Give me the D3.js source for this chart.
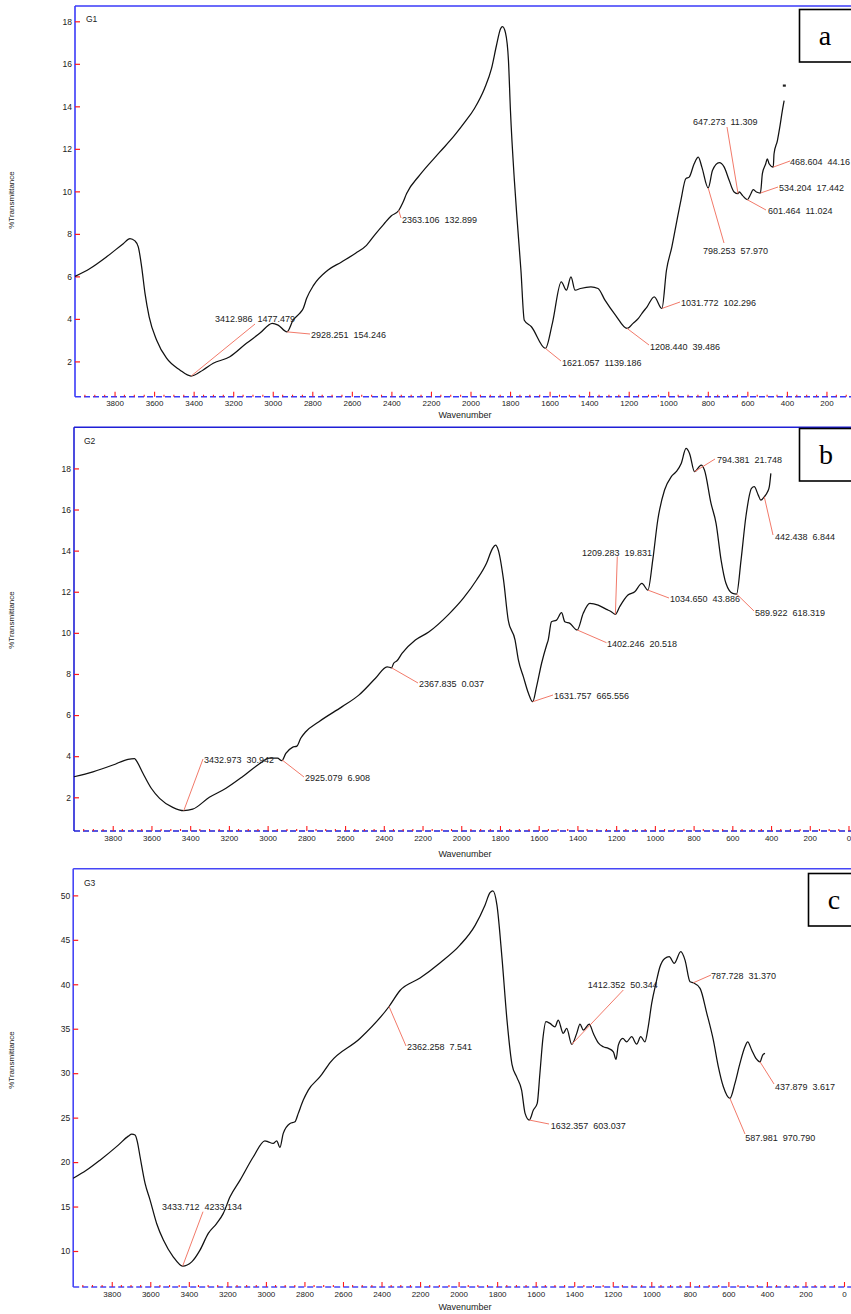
<!DOCTYPE html>
<html><head><meta charset="utf-8">
<script src="https://cdn.jsdelivr.net/npm/d3@7"></script>
<style>
body{margin:0;background:#fff}
svg{display:block}
</style>
</head><body>
<svg id="chart" width="851" height="1314"></svg>
<script>
// ---------- DATA ----------
const wnA = [4000,3924,3840,3756,3722,3697,3680,3663,3646,3625,3587,3537,3470,3413,3352,3301,3217,3133,3066,3002,2973,2928,2897,2864,2846,2828,2793,2722,2652,2581,2526,2482,2439,2400,2363,2343,2323,2258,2157,2081,2030,1980,1929,1894,1869,1848,1838,1823,1808,1798,1778,1764,1745,1728,1692,1621,1586,1541,1515,1492,1471,1444,1391,1355,1320,1267,1208,1178,1151,1133,1107,1071,1032,1009,982,956,936,911,894,869,848,830,798,776,742,717,692,667,647,641,625,601,582,571,554,534,524,507,499,490,469,465,448,436,423,414];
const tA  = [6.0,6.37,6.92,7.54,7.78,7.67,7.39,6.45,5.2,4.1,3.0,2.15,1.6,1.31,1.6,1.91,2.22,2.85,3.32,3.79,3.71,3.39,3.94,4.26,4.49,4.98,5.59,6.29,6.68,7.09,7.46,7.98,8.45,8.85,9.1,9.45,9.9,10.75,11.83,12.63,13.24,13.9,14.84,15.77,16.85,17.65,17.75,17.46,16.15,13.8,10.5,8.64,6.29,3.94,3.63,2.61,3.79,5.74,5.35,5.98,5.35,5.43,5.51,5.43,4.88,4.18,3.55,3.79,4.02,4.26,4.57,5.04,4.49,6.29,7.38,8.64,9.58,10.6,10.67,11.3,11.61,11.14,10.16,10.99,11.35,11.14,10.52,9.97,9.89,9.97,9.81,9.61,9.89,10.08,9.97,9.92,10.83,11.3,11.53,11.3,11.14,11.77,12.39,13.02,13.8,14.27];
// isolated point above the end of spectrum G1
const wnDotA = [413];
const tDotA  = [14.98];

const wnB = [4000,3902,3799,3721,3687,3678,3644,3601,3558,3490,3433,3387,3301,3215,3130,3044,2992,2949,2927,2906,2872,2849,2829,2803,2735,2615,2529,2443,2383,2360,2349,2332,2306,2237,2168,2065,1988,1921,1869,1839,1823,1808,1782,1757,1722,1705,1679,1653,1631,1611,1585,1559,1551,1534,1508,1482,1465,1439,1401,1370,1336,1293,1250,1225,1204,1182,1139,1104,1067,1036,1011,985,950,916,890,864,839,821,795,761,744,710,684,658,633,598,578,555,530,501,487,466,453,435,418,409,401];
const tB  = [3.0,3.24,3.57,3.85,3.88,3.78,3.17,2.44,1.95,1.51,1.35,1.42,2.0,2.44,3.0,3.62,3.9,3.9,3.78,4.14,4.43,4.49,4.87,5.19,5.68,6.41,6.97,7.79,8.35,8.3,8.52,8.64,9.0,9.65,10.04,10.9,11.7,12.57,13.4,14.1,14.27,14.0,12.6,10.6,9.65,8.68,7.86,7.06,6.65,7.38,8.52,9.41,9.65,10.54,10.62,10.98,10.54,10.46,10.14,10.95,11.43,11.35,11.14,11.03,10.9,11.27,11.84,12.0,12.41,12.08,13.54,15.49,16.95,17.59,17.84,18.24,18.97,18.73,17.84,18.16,17.92,16.3,15.33,13.54,12.41,11.92,11.89,13.54,15.65,17.03,17.11,16.7,16.46,16.62,16.86,17.11,17.76];

const wnC = [4000,3930,3861,3766,3714,3696,3679,3667,3653,3627,3601,3567,3532,3481,3432,3385,3342,3299,3255,3221,3186,3134,3065,3005,2988,2962,2944,2927,2910,2875,2849,2832,2806,2780,2719,2667,2512,2361,2304,2200,2097,1993,1915,1863,1837,1822,1801,1775,1749,1723,1697,1673,1655,1633,1612,1592,1578,1562,1547,1526,1500,1483,1457,1439,1413,1387,1370,1353,1322,1301,1275,1249,1223,1197,1183,1171,1148,1128,1102,1076,1055,1033,1016,998,976,955,930,907,881,847,825,799,782,747,712,678,652,626,592,566,540,514,500,479,457,436,422,410];
const tC  = [18.17,19.1,20.22,21.91,22.92,23.15,23.04,22.28,20.6,17.6,15.73,13.1,11.23,9.35,8.3,8.78,10.1,11.98,13.1,14.23,16.1,17.97,20.6,22.4,22.28,22.1,22.4,21.65,23.23,24.35,24.54,25.48,26.97,28.1,29.6,31.2,33.9,37.5,39.3,40.7,42.4,44.4,46.6,48.9,50.3,50.5,48.9,43.0,36.0,31.0,29.5,28.1,25.48,24.73,25.85,26.6,30.0,34.0,35.8,35.6,35.22,35.97,34.48,35.04,33.24,34.48,35.52,34.85,35.52,34.48,33.42,32.97,32.79,32.41,31.55,33.16,33.91,33.53,34.1,33.27,34.1,33.53,35.22,37.85,40.1,41.97,42.91,43.1,42.35,43.66,42.72,40.28,40.17,39.54,36.73,33.72,30.72,28.47,27.17,28.85,31.1,32.97,33.53,32.6,31.66,31.28,32.04,32.23];

// peak annotations: wavenumber on the curve + printed label
const annWnA = [3413,2928,2363,1621,1208,1032,798,647,601,534,469];
const annTxtA = ["3412.986  1477.479","2928.251  154.246","2363.106  132.899","1621.057  1139.186","1208.440  39.486","1031.772  102.296","798.253  57.970","647.273  11.309","601.464  11.024","534.204  17.442","468.604  44.16"];
const annWnB = [3433,2925,2360,1631,1401,1204,1036,578,795,435];
const annTxtB = ["3432.973  30.942","2925.079  6.908","2367.835  0.037","1631.757  665.556","1402.246  20.518","1209.283  19.831","1034.650  43.886","589.922  618.319","794.381  21.748","442.438  6.844"];
const annWnC = [3432,2361,1633,592,1413,782,436];
const annTxtC = ["3433.712  4233.134","2362.258  7.541","1632.357  603.037","587.981  970.790","1412.352  50.344","787.728  31.370","437.879  3.617"];

const xTickVals = d3.range(0, 4000, 200);
const yTicksA = [2,4,6,8,10,12,14,16,18];
const yTicksB = [2,4,6,8,10,12,14,16,18];
const yTicksC = [10,15,20,25,30,35,40,45,50];
const sampleNames = ["G1","G2","G3"];
const panelLetters = ["a","b","c"];

// ---------- LAYOUT (pixels) ----------
// label anchor layout: [lineEndX, lineEndY, textX, textBaselineY]
const annPosA = [[255,324,215,321.5],[310,334,311,337.5],[401,218,402,222.5],[561,361,562,365.5],[649,345,650,349.5],[680,302,681,305.5],[724,243,703,253.5],[727,127,693,124.5],[766,210,768,214],[778,187,779,190.5],[790,161,790,165]];
const annPosB = [[203,759,204,762.5],[304,777,305,780.5],[418,683,419,686.5],[553,695,554,698.5],[606.5,642.7,607,646.5],[617.3,556.5,582,555.5],[669,598,670,602],[754,611,755,616],[715,459,717,463],[773,535,775,540]];
const annPosC = [[203,1211.7,162,1210],[406,1046,407,1050],[549,1124,550.7,1128.5],[745,1134,745.3,1141],[623.3,990,587.7,988],[711,975,711,978.5],[774,1084,775,1089.5]];

const layouts = [
  {xr:[75,866], yd:[0.34,18.72], yr:[396.7,6], box:[799.5,9.5,52.5], letter:[825,45], yTitle:200, xTitle:418, name:[86,22], axisColor:"#3a3af8"},
  {xr:[74,848.5], yd:[0.36,20.0], yr:[831,427.3], box:[799.5,428.5,52.5], letter:[826,464], yTitle:620, xTitle:856.5, name:[84,444], axisColor:"#1f1fd6"},
  {xr:[73.2,844], yd:[5.95,53.0], yr:[1287,868.7], box:[808.5,873.5,52.5], letter:[834,909], yTitle:1060, xTitle:1310, name:[84,886], axisColor:"#4646f6"}
];

const series = [
  {wn:wnA, t:tA, annWn:annWnA, annTxt:annTxtA, annPos:annPosA, yTicks:yTicksA, dots:wnDotA.map((w,k)=>[w,tDotA[k]])},
  {wn:wnB, t:tB, annWn:annWnB, annTxt:annTxtB, annPos:annPosB, yTicks:yTicksB, dots:[]},
  {wn:wnC, t:tC, annWn:annWnC, annTxt:annTxtC, annPos:annPosC, yTicks:yTicksC, dots:[]}
];

const svg = d3.select("#chart");
const RED = "#ff1a1a", SALMON = "#f27a6a", TXT = "#222";
const SANS = "Arial, 'Liberation Sans', sans-serif";
const SERIF = "'Liberation Serif', 'Times New Roman', serif";

series.forEach((s, i) => {
  const L = layouts[i];
  const x = d3.scaleLinear().domain([4000, 0]).range(L.xr);
  const y = d3.scaleLinear().domain(L.yd).range(L.yr);
  const g = svg.append("g");
  const left = L.xr[0], bottom = L.yr[0], top = L.yr[1];

  g.append("line").attr("x1", left).attr("x2", 851).attr("y1", top).attr("y2", top)
    .attr("stroke", L.axisColor).attr("stroke-width", 1.4);
  g.append("line").attr("x1", left).attr("x2", left).attr("y1", top).attr("y2", bottom)
    .attr("stroke", L.axisColor).attr("stroke-width", 1.6);

  // y axis
  const yAxis = d3.axisLeft(y).tickValues(s.yTicks).tickSize(0).tickPadding(3);
  const ya = g.append("g").attr("transform", `translate(${left},0)`).call(yAxis);
  ya.select(".domain").remove();
  ya.selectAll("text").style("font-family", SANS).style("font-size", "8.5px").attr("fill", TXT);
  ya.selectAll(".tick").append("line").attr("x1", 0).attr("x2", 5).attr("stroke", RED).attr("stroke-width", 1.2);

  // x axis: blue baseline, red ticks
  g.append("line").attr("x1", left).attr("x2", 851).attr("y1", bottom).attr("y2", bottom)
    .attr("stroke", L.axisColor).attr("stroke-width", 1.4).attr("stroke-dasharray", "6,3");
  const xAxis = d3.axisBottom(x).tickValues(xTickVals).tickSize(0).tickPadding(4).tickFormat(d3.format("d"));
  const xa = g.append("g").attr("transform", `translate(0,${bottom})`).call(xAxis);
  xa.select(".domain").remove();
  xa.selectAll(".tick").filter(d => d === 0 && x(0) > 851).remove();
  xa.selectAll("text").style("font-family", SANS).style("font-size", "8px").attr("fill", TXT);
  xa.selectAll(".tick").append("line").attr("y1", 0).attr("y2", -5).attr("stroke", RED).attr("stroke-width", 1.1);
  const minor = d3.range(50, 4000, 50).filter(v => v % 200 !== 0);
  g.append("g").selectAll("line").data(minor).join("line")
    .attr("x1", d => x(d)).attr("x2", d => x(d)).attr("y1", bottom).attr("y2", bottom - 2)
    .attr("stroke", RED).attr("stroke-width", 1.1);

  // titles
  g.append("text").attr("x", 465).attr("y", L.xTitle).attr("text-anchor", "middle")
    .style("font-family", SANS).style("font-size", "9px").attr("fill", TXT).text("Wavenumber");
  g.append("text").attr("transform", `translate(14,${L.yTitle}) rotate(-90)`).attr("text-anchor", "middle")
    .style("font-family", SANS).style("font-size", "8px").attr("fill", TXT).text("%Transmittance");
  g.append("text").attr("x", L.name[0]).attr("y", L.name[1])
    .style("font-family", SANS).style("font-size", "8.5px").attr("fill", TXT).text(sampleNames[i]);

  // spectrum
  const pts = s.wn.map((w, k) => [w, s.t[k]]);
  g.append("path").datum(pts)
    .attr("d", d3.line().x(d => x(d[0])).y(d => y(d[1])).curve(d3.curveMonotoneX))
    .attr("fill", "none").attr("stroke", "#111").attr("stroke-width", 1.25).attr("stroke-linejoin", "round");
  g.append("g").selectAll("rect").data(s.dots).join("rect")
    .attr("x", d => x(d[0]) - 1.5).attr("y", d => y(d[1]) - 1).attr("width", 3).attr("height", 2.2).attr("fill", "#222");

  // annotations
  const interp = w => {
    for (let k = 0; k < s.wn.length - 1; k++) {
      const a = s.wn[k], b = s.wn[k + 1];
      if (w <= a && w >= b) { const f = (a - w) / (a - b); return s.t[k] + f * (s.t[k + 1] - s.t[k]); }
    }
    return s.t[s.t.length - 1];
  };
  s.annWn.forEach((w, k) => {
    const p = s.annPos[k];
    g.append("line").attr("x1", x(w)).attr("y1", y(interp(w))).attr("x2", p[0]).attr("y2", p[1])
      .attr("stroke", SALMON).attr("stroke-width", 1);
    g.append("text").attr("x", p[2]).attr("y", p[3])
      .style("font-family", SANS).style("font-size", "9px").style("white-space", "pre").attr("fill", TXT)
      .text(s.annTxt[k]);
  });

  // panel letter box
  g.append("rect").attr("x", L.box[0]).attr("y", L.box[1]).attr("width", 60).attr("height", L.box[2])
    .attr("fill", "#fff").attr("stroke", "#000").attr("stroke-width", 1.6);
  g.append("text").attr("x", L.letter[0]).attr("y", L.letter[1]).attr("text-anchor", "middle")
    .style("font-family", SERIF).style("font-size", "28px").attr("fill", "#000")
    .text(panelLetters[i]);
});
</script>
</body></html>
